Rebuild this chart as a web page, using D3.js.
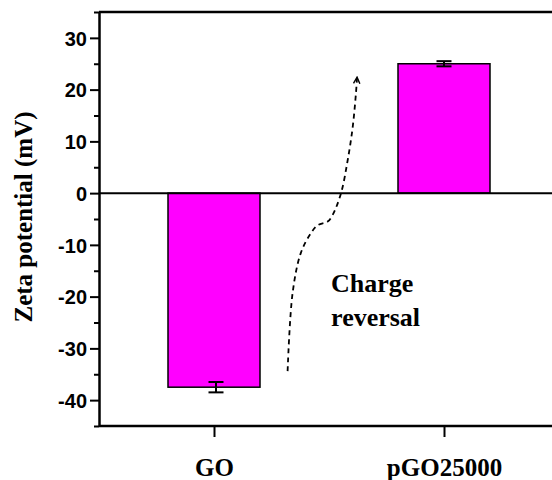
<!DOCTYPE html>
<html>
<head>
<meta charset="utf-8">
<script src="https://cdn.jsdelivr.net/npm/d3@7"></script>
<style>
  html, body { margin: 0; padding: 0; background: #fff; }
  svg { display: block; }
</style>
</head>
<body>
<svg id="chart" width="552" height="480"></svg>
<script>
// ---- data ----
const categories = ["GO", "pGO25000"];
const categoryPos = [1, 2];
const zetaValues = [-37.5, 25];
const zetaErrors = [1.0, 0.5];
const yMajorTicks = [-40, -30, -20, -10, 0, 10, 20, 30];
const yMinorTicks = [-45, -35, -25, -15, -5, 5, 15, 25, 35];
const annotationLines = ["Charge", "reversal"];
// dashed "charge reversal" arrow, in data units (x: category axis, y: mV)
const arrowX = [1.320, 1.342, 1.378, 1.422, 1.451, 1.494, 1.516, 1.552, 1.581, 1.603, 1.617, 1.622];
const arrowY = [-34.4, -19.2, -11.5, -7.7, -6.2, -5.5, -4.2, -0.06, 6.3, 12.75, 19.2, 22.4];

(function () {
// ---- layout ----
const W = 552, H = 480;
const mLeft = 99, mTop = 12, mBottom = 426;
const svg = d3.select("#chart");

const x = d3.scaleLinear().domain([0.5, 2.5]).range([mLeft, mLeft + 460]);
const y = d3.scaleLinear().domain([-45, 35]).range([mBottom, mTop]);

const serif = "'Liberation Serif', 'Times New Roman', serif";
const sans = "'Liberation Sans', Arial, sans-serif";

// top frame line
svg.append("line")
  .attr("x1", x(0.5)).attr("x2", W + 10)
  .attr("y1", y(35)).attr("y2", y(35))
  .attr("stroke", "#000").attr("stroke-width", 2.5);

// bars
const barW = x(1.4) - x(1.0);
svg.append("g").selectAll("rect")
  .data(zetaValues)
  .join("rect")
  .attr("x", (d, i) => x(categoryPos[i]) - barW / 2)
  .attr("width", barW)
  .attr("y", d => y(Math.max(0, d)))
  .attr("height", d => Math.abs(y(d) - y(0)))
  .attr("fill", "#ff00ff")
  .attr("stroke", "#000")
  .attr("stroke-width", 1.5);

// zero line
svg.append("line")
  .attr("x1", x(0.5)).attr("x2", W + 10)
  .attr("y1", y(0)).attr("y2", y(0))
  .attr("stroke", "#000").attr("stroke-width", 2);

// error bars
const capW = 7.5;
const eb = svg.append("g").attr("stroke", "#000").attr("stroke-width", 2);
zetaValues.forEach((v, i) => {
  const cx = x(categoryPos[i]) + (i === 0 ? 2 : 0);
  const lo = v - zetaErrors[i], hi = v + zetaErrors[i];
  eb.append("line").attr("x1", cx).attr("x2", cx).attr("y1", y(lo)).attr("y2", y(hi));
  eb.append("line").attr("x1", cx - capW).attr("x2", cx + capW).attr("y1", y(lo)).attr("y2", y(lo));
  eb.append("line").attr("x1", cx - capW).attr("x2", cx + capW).attr("y1", y(hi)).attr("y2", y(hi));
});

// y axis: minor ticks
const yMinor = svg.append("g").attr("transform", `translate(${mLeft},0)`)
  .call(d3.axisLeft(y).tickValues(yMinorTicks).tickSize(5).tickSizeOuter(0).tickFormat(""));
yMinor.select(".domain").remove();
yMinor.selectAll(".tick line").attr("stroke-width", 2);

// y axis: major ticks
const yAxis = svg.append("g").attr("transform", `translate(${mLeft},0)`)
  .call(d3.axisLeft(y).tickValues(yMajorTicks).tickSize(9).tickSizeOuter(0).tickPadding(3)
    .tickFormat(d => String(d)));
yAxis.select(".domain").attr("stroke-width", 2.5);
yAxis.selectAll(".tick line").attr("stroke-width", 2);
yAxis.selectAll(".tick text")
  .attr("font-family", sans).attr("font-weight", "bold").attr("font-size", 20)
  .attr("fill", "#000").attr("dy", "0.36em");

// x axis
const xAxis = svg.append("g").attr("transform", `translate(0,${mBottom})`)
  .call(d3.axisBottom(x).tickValues(categoryPos).tickSize(11).tickSizeOuter(0)
    .tickFormat((d, i) => categories[i]));
xAxis.select(".domain").attr("stroke-width", 2.5)
  .attr("d", `M${mLeft},0H${W + 10}`);
xAxis.selectAll(".tick line").attr("stroke-width", 2);
xAxis.selectAll(".tick text")
  .attr("font-family", serif).attr("font-weight", "bold").attr("font-size", 25)
  .attr("fill", "#000").attr("y", 50).attr("dy", 0);

// y label
svg.append("text")
  .attr("transform", `translate(32,${(y(35) + y(-45)) / 2 - 2}) rotate(-90)`)
  .attr("text-anchor", "middle")
  .attr("font-family", serif).attr("font-weight", "bold").attr("font-size", 25)
  .attr("fill", "#000")
  .text("Zeta potential (mV)");

// arrow marker
svg.append("defs").append("marker")
  .attr("id", "chev")
  .attr("viewBox", "0 0 10 10")
  .attr("refX", 9).attr("refY", 5)
  .attr("markerWidth", 8).attr("markerHeight", 8)
  .attr("markerUnits", "userSpaceOnUse")
  .attr("orient", "auto")
  .append("path")
  .attr("d", "M1,1 L9,5 L1,9")
  .attr("fill", "none").attr("stroke", "#000").attr("stroke-width", 1.8);

// dashed arrow
const arrowPts = arrowX.map((v, i) => [x(v), y(arrowY[i])]);
svg.append("path")
  .attr("d", d3.line().curve(d3.curveCatmullRom.alpha(0.5))(arrowPts))
  .attr("fill", "none").attr("stroke", "#000").attr("stroke-width", 1.8)
  .attr("stroke-dasharray", "5,4")
  .attr("marker-end", "url(#chev)");

// annotation text
const ann = svg.append("text")
  .attr("x", x(1.509)).attr("y", y(-19.2))
  .attr("font-family", serif).attr("font-weight", "bold").attr("font-size", 26)
  .attr("fill", "#000");
annotationLines.forEach((t, i) => {
  ann.append("tspan").attr("x", x(1.509)).attr("dy", i === 0 ? 0 : 34).text(t);
});
})();
</script>
</body>
</html>
